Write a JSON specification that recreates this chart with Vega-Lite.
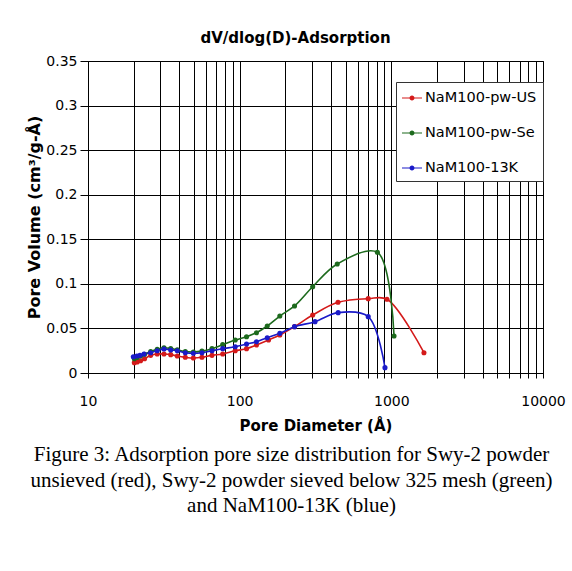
{
  "$schema": "https://vega.github.io/schema/vega-lite/v6.json",
  "width": 455,
  "height": 312,
  "autosize": {"type": "none"},
  "padding": {"left": 88, "top": 61, "right": 29, "bottom": 198},
  "background": "white",
  "config": {
    "view": {"stroke": "#000", "strokeWidth": 1},
    "font": "DejaVu Sans",
    "axis": {"labelColor": "#000", "titleColor": "#000", "domainColor": "#000", "tickColor": "#000", "gridColor": "#000", "gridOpacity": 1, "gridWidth": 1}
  },
  "title": {
    "text": ["Figure 3: Adsorption pore size distribution for Swy-2 powder", "unsieved (red), Swy-2 powder sieved below 325 mesh (green)", "and NaM100-13K (blue)"],
    "orient": "bottom",
    "anchor": "middle",
    "font": "Liberation Serif",
    "fontSize": 21,
    "fontWeight": "normal",
    "color": "#000",
    "lineHeight": 25.5,
    "dx": -24,
    "offset": 11
  },
  "data": {
    "values": [
      {"s": "NaM100-pw-US", "d": 20.2, "v": 0.0116},
      {"s": "NaM100-pw-US", "d": 21.1, "v": 0.0123},
      {"s": "NaM100-pw-US", "d": 22.2, "v": 0.0138},
      {"s": "NaM100-pw-US", "d": 23.6, "v": 0.016},
      {"s": "NaM100-pw-US", "d": 25.9, "v": 0.0198},
      {"s": "NaM100-pw-US", "d": 28.6, "v": 0.0213},
      {"s": "NaM100-pw-US", "d": 31.7, "v": 0.0213},
      {"s": "NaM100-pw-US", "d": 35.1, "v": 0.0206},
      {"s": "NaM100-pw-US", "d": 38.8, "v": 0.019},
      {"s": "NaM100-pw-US", "d": 43.8, "v": 0.0176},
      {"s": "NaM100-pw-US", "d": 49.5, "v": 0.0168},
      {"s": "NaM100-pw-US", "d": 56.4, "v": 0.0176},
      {"s": "NaM100-pw-US", "d": 65.7, "v": 0.0198},
      {"s": "NaM100-pw-US", "d": 77.3, "v": 0.0213},
      {"s": "NaM100-pw-US", "d": 93.5, "v": 0.025},
      {"s": "NaM100-pw-US", "d": 111, "v": 0.0273},
      {"s": "NaM100-pw-US", "d": 129, "v": 0.0314},
      {"s": "NaM100-pw-US", "d": 155, "v": 0.037},
      {"s": "NaM100-pw-US", "d": 184, "v": 0.0426},
      {"s": "NaM100-pw-US", "d": 230, "v": 0.052},
      {"s": "NaM100-pw-US", "d": 303, "v": 0.065},
      {"s": "NaM100-pw-US", "d": 445, "v": 0.0793},
      {"s": "NaM100-pw-US", "d": 704, "v": 0.0834},
      {"s": "NaM100-pw-US", "d": 936, "v": 0.0827},
      {"s": "NaM100-pw-US", "d": 1641, "v": 0.0228},
      {"s": "NaM100-pw-Se", "d": 20.2, "v": 0.016},
      {"s": "NaM100-pw-Se", "d": 21.1, "v": 0.0175},
      {"s": "NaM100-pw-Se", "d": 22.2, "v": 0.019},
      {"s": "NaM100-pw-Se", "d": 23.6, "v": 0.021},
      {"s": "NaM100-pw-Se", "d": 25.9, "v": 0.024},
      {"s": "NaM100-pw-Se", "d": 28.6, "v": 0.0265},
      {"s": "NaM100-pw-Se", "d": 31.7, "v": 0.0283},
      {"s": "NaM100-pw-Se", "d": 35.1, "v": 0.0275},
      {"s": "NaM100-pw-Se", "d": 38.8, "v": 0.026},
      {"s": "NaM100-pw-Se", "d": 43.8, "v": 0.024},
      {"s": "NaM100-pw-Se", "d": 49.5, "v": 0.0235},
      {"s": "NaM100-pw-Se", "d": 56.4, "v": 0.0245},
      {"s": "NaM100-pw-Se", "d": 65.7, "v": 0.0273},
      {"s": "NaM100-pw-Se", "d": 77.3, "v": 0.0318},
      {"s": "NaM100-pw-Se", "d": 93.5, "v": 0.037},
      {"s": "NaM100-pw-Se", "d": 111, "v": 0.0407},
      {"s": "NaM100-pw-Se", "d": 129, "v": 0.0452},
      {"s": "NaM100-pw-Se", "d": 152, "v": 0.0527},
      {"s": "NaM100-pw-Se", "d": 184, "v": 0.0639},
      {"s": "NaM100-pw-Se", "d": 230, "v": 0.0752},
      {"s": "NaM100-pw-Se", "d": 303, "v": 0.0968},
      {"s": "NaM100-pw-Se", "d": 440, "v": 0.1223},
      {"s": "NaM100-pw-Se", "d": 809, "v": 0.1354},
      {"s": "NaM100-pw-Se", "d": 1042, "v": 0.0415},
      {"s": "NaM100-13K", "d": 19.9, "v": 0.0183},
      {"s": "NaM100-13K", "d": 21, "v": 0.019},
      {"s": "NaM100-13K", "d": 22, "v": 0.0198},
      {"s": "NaM100-13K", "d": 23.4, "v": 0.0213},
      {"s": "NaM100-13K", "d": 25.9, "v": 0.0228},
      {"s": "NaM100-13K", "d": 28.6, "v": 0.025},
      {"s": "NaM100-13K", "d": 31.7, "v": 0.0269},
      {"s": "NaM100-13K", "d": 35.1, "v": 0.0258},
      {"s": "NaM100-13K", "d": 38.8, "v": 0.025},
      {"s": "NaM100-13K", "d": 43.8, "v": 0.0228},
      {"s": "NaM100-13K", "d": 49.5, "v": 0.0221},
      {"s": "NaM100-13K", "d": 56.4, "v": 0.0228},
      {"s": "NaM100-13K", "d": 65.7, "v": 0.025},
      {"s": "NaM100-13K", "d": 77.3, "v": 0.0273},
      {"s": "NaM100-13K", "d": 93.5, "v": 0.0295},
      {"s": "NaM100-13K", "d": 111, "v": 0.0325},
      {"s": "NaM100-13K", "d": 129, "v": 0.0351},
      {"s": "NaM100-13K", "d": 152, "v": 0.0396},
      {"s": "NaM100-13K", "d": 184, "v": 0.0445},
      {"s": "NaM100-13K", "d": 230, "v": 0.052},
      {"s": "NaM100-13K", "d": 314, "v": 0.0576},
      {"s": "NaM100-13K", "d": 446, "v": 0.0677},
      {"s": "NaM100-13K", "d": 704, "v": 0.0632},
      {"s": "NaM100-13K", "d": 908, "v": 0.006}
    ]
  },
  "resolve": {"axis": {"x": "independent"}},
  "layer": [
    {
      "mark": {"type": "line", "interpolate": "catmull-rom", "strokeWidth": 1.6},
      "encoding": {
        "x": {
          "field": "d", "type": "quantitative",
          "scale": {"type": "log", "domain": [10, 10000], "nice": false},
          "axis": {
            "orient": "bottom",
            "title": "Pore Diameter (Å)",
            "titleFontSize": 15, "titleFontWeight": "bold", "titlePadding": 10,
            "values": [10,20,30,40,50,60,70,80,90,100,200,300,400,500,600,700,800,900,1000,2000,3000,4000,5000,6000,7000,8000,9000,10000],
            "labelExpr": "indexof([10,100,1000,10000], datum.value) >= 0 ? datum.value + '' : ''",
            "labelFontSize": 14, "labelPadding": 16, "tickSize": 5, "labelFlush": false, "labelOverlap": false,
            "grid": true
          }
        },
        "y": {
          "field": "v", "type": "quantitative",
          "scale": {"domain": [0, 0.35], "nice": false},
          "axis": {
            "title": "Pore Volume (cm³/g-Å)",
            "titleFontSize": 16, "titleFontWeight": "bold", "titlePadding": 3,
            "values": [0, 0.05, 0.1, 0.15, 0.2, 0.25, 0.3, 0.35],
            "format": "~g",
            "labelFontSize": 14, "labelPadding": 3, "tickSize": 8,
            "grid": true
          }
        },
        "color": {
          "field": "s", "type": "nominal",
          "scale": {"domain": ["NaM100-pw-US", "NaM100-pw-Se", "NaM100-13K"], "range": ["#d41a1a", "#1d6a1d", "#1a1ac8"]},
          "legend": {
            "orient": "none", "legendX": 308, "legendY": 21,
            "title": null,
            "fillColor": "white", "strokeColor": "#333", "padding": 6,
            "symbolType": "M-1,-0.05L1,-0.05L1,0.05L-1,0.05Z M0.25,0A0.25,0.25,0,1,1,-0.25,0A0.25,0.25,0,1,1,0.25,0Z",
            "symbolSize": 400, "symbolStrokeWidth": 0, "symbolOpacity": 1,
            "labelFontSize": 14.5, "labelColor": "#000", "labelOffset": 3,
            "rowPadding": 18
          }
        },
        "detail": {"field": "s"}
      }
    },
    {
      "mark": {"type": "point", "filled": true, "size": 26, "opacity": 1},
      "encoding": {
        "x": {
          "field": "d", "type": "quantitative",
          "scale": {"type": "log", "domain": [10, 10000], "nice": false},
          "axis": {
            "orient": "top",
            "title": "dV/dlog(D)-Adsorption",
            "titleFontSize": 15, "titleFontWeight": "bold", "titlePadding": 16,
            "titleX": 207,
            "labels": false, "ticks": false, "domain": false, "grid": false
          }
        },
        "y": {"field": "v", "type": "quantitative"},
        "color": {
          "field": "s", "type": "nominal",
          "legend": {
            "orient": "none", "legendX": 308, "legendY": 21,
            "title": null,
            "fillColor": "white", "strokeColor": "#333", "padding": 6,
            "symbolType": "M-1,-0.05L1,-0.05L1,0.05L-1,0.05Z M0.25,0A0.25,0.25,0,1,1,-0.25,0A0.25,0.25,0,1,1,0.25,0Z",
            "symbolSize": 400, "symbolStrokeWidth": 0, "symbolOpacity": 1,
            "labelFontSize": 14.5, "labelColor": "#000", "labelOffset": 3,
            "rowPadding": 18
          }
        }
      }
    }
  ]
}
